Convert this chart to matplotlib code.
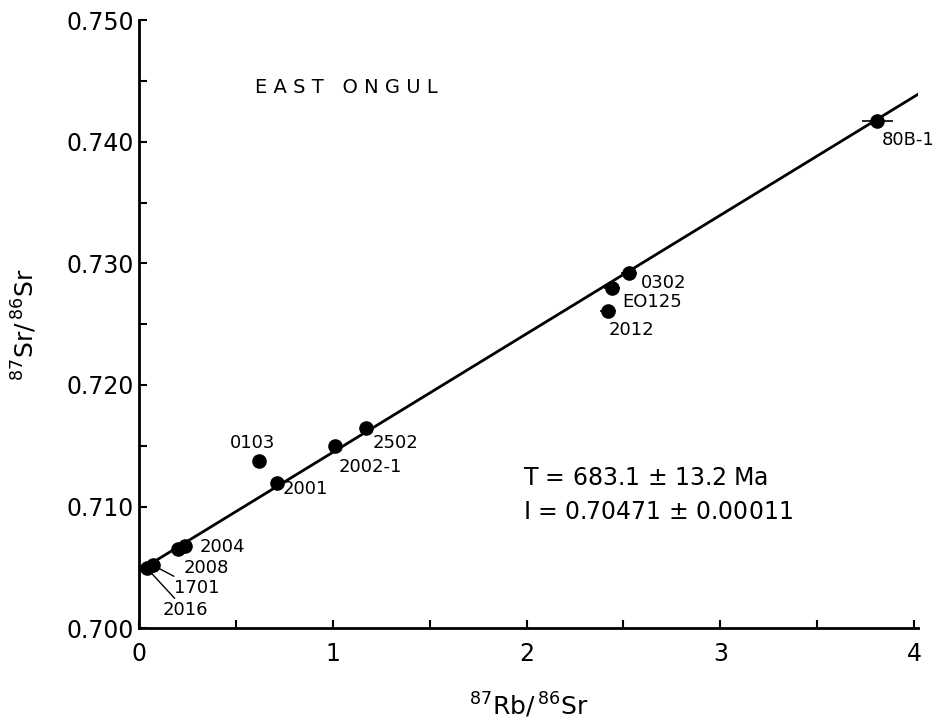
import matplotlib

matplotlib.use("Agg")
import matplotlib.pyplot as plt
from matplotlib.ticker import MultipleLocator

# sample data: 87Rb/86Sr and 87Sr/86Sr
samples = ["80B-1", "0302", "EO125", "2012", "2502", "2002-1",
           "0103", "2001", "2004", "2008", "1701", "2016"]
rb_sr = [3.81, 2.53, 2.44, 2.42, 1.17, 1.01, 0.62, 0.71, 0.24, 0.20, 0.07, 0.04]
sr_sr = [0.74173, 0.72920, 0.72796, 0.72611, 0.71649, 0.71498,
         0.71374, 0.71196, 0.70675, 0.70650, 0.70519, 0.70494]
rb_err = [0.08, 0.04, 0.04, 0.04, 0, 0, 0, 0, 0, 0, 0, 0]

# isochron
intercept = 0.70471
slope = 0.00975
line_x = [0.0, 4.03]

# label offsets in pixels (dx, dy) and whether a leader line is drawn
label_off = [(4, -19), (12, -10), (10, -14), (1, -19), (7, -15), (4, -21),
             (-29, 18), (6, -6), (14, -1), (6, -19), (21, -23), (16, -42)]
leader = [False] * 10 + [True, True]

fig = plt.figure(figsize=(9.41, 7.22), dpi=100)
ax = fig.add_axes([0.1477, 0.130, 0.8278, 0.842])

ax.plot(line_x, [intercept + slope * x for x in line_x], color="black", lw=2)
ax.errorbar(rb_sr, sr_sr, xerr=rb_err, fmt="o", color="black", ms=9.5,
            elinewidth=1.2, capsize=0, zorder=3)

for name, x, y, (dx, dy), lead in zip(samples, rb_sr, sr_sr, label_off, leader):
    props = dict(arrowstyle="-", color="black", lw=1, shrinkA=0, shrinkB=4) if lead else None
    ax.annotate(name, (x, y), xytext=(dx, dy), textcoords="offset pixels",
                ha="left", va="center", fontsize=13, arrowprops=props)

ax.text(1.07, 0.7445, "E A S T   O N G U L", ha="center", va="center", fontsize=14)
ax.text(1.98, 0.71235, "T = 683.1 $\\pm$ 13.2 Ma", ha="left", va="center", fontsize=17)
ax.text(1.98, 0.70955, "I = 0.70471 $\\pm$ 0.00011", ha="left", va="center", fontsize=17)

ax.set_xlim(0, 4.02)
ax.set_ylim(0.700, 0.750)
ax.xaxis.set_major_locator(MultipleLocator(1))
ax.xaxis.set_minor_locator(MultipleLocator(0.5))
ax.yaxis.set_major_locator(MultipleLocator(0.010))
ax.yaxis.set_minor_locator(MultipleLocator(0.005))
ax.yaxis.set_major_formatter(plt.FuncFormatter(lambda v, p: f"{v:.3f}"))
ax.tick_params(which="both", direction="in", length=6, width=1.5, labelsize=17)
ax.tick_params(axis="x", pad=10)
ax.spines["top"].set_visible(False)
ax.spines["right"].set_visible(False)
for s in ("left", "bottom"):
    ax.spines[s].set_linewidth(2)

ax.set_xlabel("$^{87}$Rb $\\!\\!/\\!$ $^{86}$Sr", fontsize=18, labelpad=18)
ax.set_ylabel("$^{87}$Sr $\\!\\!/\\!$ $^{86}$Sr", fontsize=18, labelpad=20)

fig.savefig("out.png", dpi=100)
